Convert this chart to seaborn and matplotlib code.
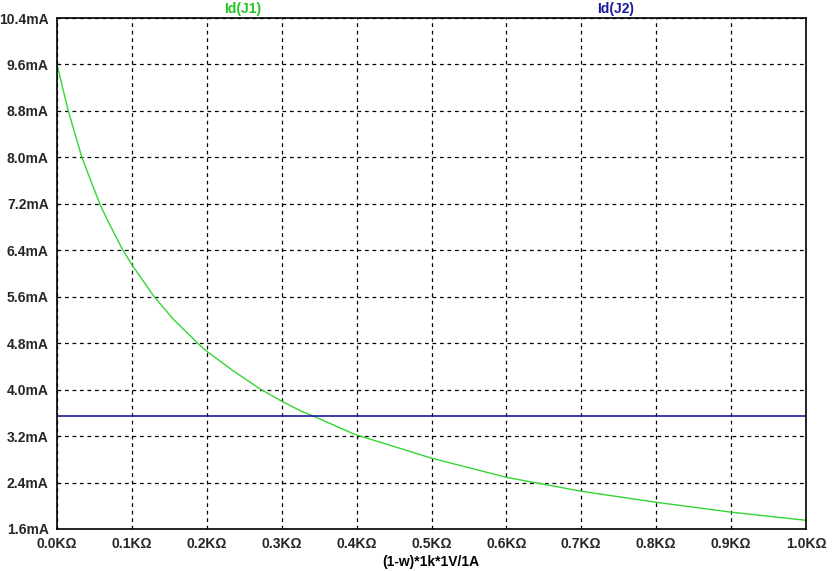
import matplotlib
matplotlib.use("Agg")
import matplotlib.pyplot as plt
import seaborn as sns
import numpy as np
import pandas as pd

# data (x in kOhm, current in mA)
r_kohm = [0.0, 0.0071, 0.0151, 0.0241, 0.033, 0.045, 0.0584, 0.0677, 0.0864,
          0.1, 0.1298, 0.1555, 0.1903, 0.2, 0.2357, 0.2714, 0.3, 0.326, 0.343,
          0.392, 0.4, 0.5, 0.6, 0.7, 0.8, 0.9, 1.0]
id_j1 = [9.6, 9.22, 8.8, 8.40, 8.01, 7.60, 7.16, 6.91, 6.44,
         6.15, 5.6, 5.21, 4.77, 4.66, 4.32, 4.01, 3.80, 3.63, 3.54,
         3.26, 3.22, 2.82, 2.49, 2.25, 2.06, 1.89, 1.75]
id_j2_level = 3.55
x_ticks = [0.0, 0.1, 0.2, 0.3, 0.4, 0.5, 0.6, 0.7, 0.8, 0.9, 1.0]
y_ticks = [1.6, 2.4, 3.2, 4.0, 4.8, 5.6, 6.4, 7.2, 8.0, 8.8, 9.6, 10.4]

df = pd.DataFrame({"R": r_kohm, "J1": id_j1, "J2": [id_j2_level] * len(r_kohm)})

sns.set_style("white")
plt.rcParams['font.family'] = ['Liberation Sans', 'DejaVu Sans']
plt.rcParams['font.weight'] = 'bold'

fig = plt.figure(figsize=(8.34, 5.71), dpi=100)
ax = fig.add_axes([57/834, 1-529/571, (806-57)/834, (529-18)/571])

green = "#33d633"
blue = "#1a1aa0"
sns.lineplot(data=df, x="R", y="J1", color=green, lw=1.0, ax=ax)
sns.lineplot(data=df, x="R", y="J2", color=blue, lw=1.2, ax=ax)

ax.set_xlim(0, 1.0)
ax.set_ylim(1.6, 10.4)
ax.set_xticks(x_ticks)
ax.set_yticks(y_ticks)
ax.set_xticklabels([f"{v:.1f}K\u03a9" for v in x_ticks], fontsize=10, fontweight='bold')
ax.set_yticklabels([f"{v:.1f}mA" for v in y_ticks], fontsize=10, fontweight='bold')
ax.tick_params(axis='both', direction='out', length=5, width=1, color='black', pad=1)
ax.grid(True, color='black', linestyle=(0, (3, 3)), linewidth=0.9)
for s in ax.spines.values():
    s.set_color('black')
    s.set_linewidth(1.2)
ax.set_xlabel("")
ax.set_ylabel("")

fig.text(431/834, 1-562/571, "(1-w)*1k*1V/1A", ha='center', va='center',
         fontsize=10, fontweight='bold', color='black')
fig.text(243/834, 1-9/571, "Id(J1)", ha='center', va='center',
         fontsize=10, fontweight='bold', color="#22c422")
fig.text(616/834, 1-9/571, "Id(J2)", ha='center', va='center',
         fontsize=10, fontweight='bold', color=blue)

fig.savefig("out.png", dpi=100)
